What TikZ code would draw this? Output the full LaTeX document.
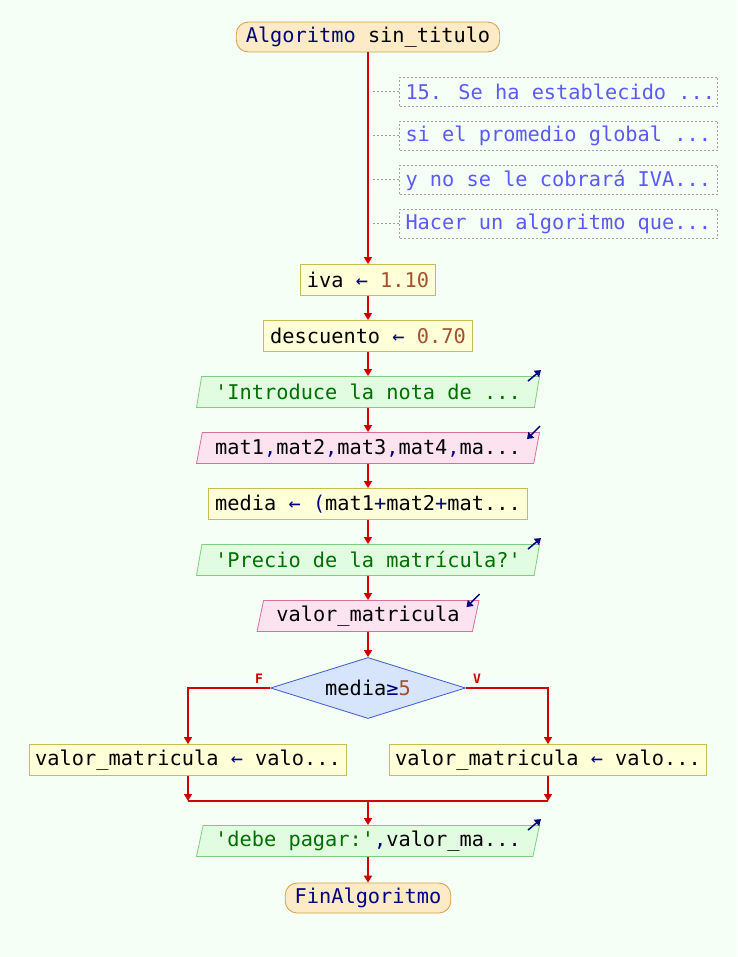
\documentclass[tikz,border=0pt]{standalone}
\usepackage{fontspec}
\newfontfamily\codefont{DejaVu Sans Mono}
\usetikzlibrary{shapes.geometric,arrows.meta,calc}

\definecolor{bgc}{HTML}{F5FFF5}
\definecolor{flowred}{HTML}{D00000}
\definecolor{termfill}{HTML}{FDEBC8}
\definecolor{termdraw}{HTML}{D4A04A}
\definecolor{procfill}{HTML}{FFFFD8}
\definecolor{procdraw}{HTML}{C8BE50}
\definecolor{outfill}{HTML}{E2FCE2}
\definecolor{outdraw}{HTML}{7CD07C}
\definecolor{infill}{HTML}{FDE2F0}
\definecolor{indraw}{HTML}{D8709A}
\definecolor{decfill}{HTML}{D6E4FC}
\definecolor{decdraw}{HTML}{3C5CD0}
\definecolor{kwc}{HTML}{000080}
\definecolor{numc}{HTML}{A0522D}
\definecolor{strc}{HTML}{007000}
\definecolor{cmtc}{HTML}{5A5AF5}
\definecolor{cmtline}{HTML}{A0A0A0}

\newcommand{\kwd}[1]{\textcolor{kwc}{#1}}
\newcommand{\numc}[1]{\textcolor{numc}{#1}}
\newcommand{\strc}[1]{\textcolor{strc}{#1}}
\newcommand{\cmtline}[1]{\makebox[306pt][l]{#1}}

\begin{document}
\begin{tikzpicture}[x=1pt,y=-1pt,
  font={\codefont\fontsize{20.3}{24}\selectfont},
  flow/.style={draw=flowred,line width=1.6pt},
  arr/.style={flow,-{Triangle[length=7pt,width=8pt]}},
  term/.style={rectangle,rounded corners=12pt,draw=termdraw,fill=termfill,
    line width=0.8pt,minimum height=30pt,inner xsep=9.5pt,inner ysep=0pt},
  proc/.style={rectangle,draw=procdraw,fill=procfill,line width=0.8pt,
    minimum height=31pt,inner xsep=6.5pt,inner ysep=0pt},
  outbox/.style={trapezium,trapezium left angle=72,trapezium right angle=108,
    trapezium stretches body,draw=outdraw,fill=outfill,line width=0.8pt,
    minimum height=31pt,inner xsep=4pt,inner ysep=0pt},
  inbox/.style={outbox,draw=indraw,fill=infill},
  decbox/.style={diamond,aspect=3.2,draw=decdraw,fill=decfill,line width=0.8pt,
    minimum width=195pt,minimum height=61pt,inner sep=1pt},
  cmtbox/.style={rectangle,draw=cmtline,line width=1pt,
    dash pattern=on 2pt off 2pt,text=cmtc,
    minimum height=29pt,inner xsep=6pt,inner ysep=0pt,anchor=west},
  cmtlink/.style={draw=cmtline,line width=1pt,dash pattern=on 2pt off 2pt},
  icon/.style={draw=kwc,line width=1.5pt,-{Triangle[length=6pt,width=8pt]}},
  branch/.style={text=flowred,font={\codefont\bfseries\fontsize{13}{15}\selectfont}}
]
\useasboundingbox[fill=bgc] (0,0) rectangle (737,957);

% terminals
\node[term] (start) at (368,37) {\kwd{Algoritmo} sin\_titulo};
\node[term] (fin) at (368,898) {\kwd{FinAlgoritmo}};

% comment lines
\node[cmtbox] (cm1) at (399,92) {\cmtline{15. Se ha establecido ...}};
\node[cmtbox] (cm2) at (399,136) {\cmtline{si el promedio global ...}};
\node[cmtbox] (cm3) at (399,180) {\cmtline{y no se le cobrará IVA...}};
\node[cmtbox] (cm4) at (399,224) {\cmtline{Hacer un algoritmo que...}};
\coordinate (k1) at (373,92);
\coordinate (k2) at (373,136);
\coordinate (k3) at (373,180);
\coordinate (k4) at (373,224);

% statements
\node[proc] (iva) at (368,280) {iva \kwd{←} \numc{1.10}};
\node[proc] (desc) at (368,336) {descuento \kwd{←} \numc{0.70}};
\node[outbox,minimum width=343pt] (out1) at (368,392)
  {\strc{'Introduce la nota de ...}};
\node[inbox,minimum width=343pt] (in1) at (368,448)
  {mat1\kwd{,}mat2\kwd{,}mat3\kwd{,}mat4\kwd{,}ma...};
\node[proc] (media) at (368,504)
  {media \kwd{←} \kwd{(}mat1\kwd{+}mat2\kwd{+}mat...};
\node[outbox,minimum width=343pt] (out2) at (368,560)
  {\strc{'Precio de la matrícula?'}};
\node[inbox,minimum width=222pt] (in2) at (368,616) {valor\_matricula};
\node[decbox] (dec) at (368,688) {media\kwd{≥}\numc{5}};
\node[proc,inner xsep=6pt] (bl) at (188,760) {valor\_matricula \kwd{←} valo...};
\node[proc,inner xsep=6pt] (br) at (548,760) {valor\_matricula \kwd{←} valo...};
\node[outbox,minimum width=343pt] (out3) at (368,841)
  {\strc{'debe pagar:'}\kwd{,}valor\_ma...};

\node[branch] (lf) at (259,679) {F};
\node[branch] (lv) at (477,679) {V};

% connectors
\draw[arr] (start) -- (iva);
\foreach \i in {1,...,4} \draw[cmtlink] (k\i) -- (cm\i.west);
\draw[arr] (iva) -- (desc);
\draw[arr] (desc) -- (out1);
\draw[arr] (out1) -- (in1);
\draw[arr] (in1) -- (media);
\draw[arr] (media) -- (out2);
\draw[arr] (out2) -- (in2);
\draw[arr] (in2) -- (dec);
\draw[arr] (dec.west) -| (bl.north);
\draw[arr] (dec.east) -| (br.north);
\coordinate (join) at (368,801);
\draw[arr] (bl.south) -- (bl.south |- join);
\draw[arr] (br.south) -- (br.south |- join);
\draw[flow] (bl.south |- join) -- (br.south |- join);
\draw[arr] (join) -- (out3);
\draw[arr] (out3) -- (fin);

% input/output markers
\draw[icon] ([shift={(-12,5)}]out1.top right corner) -- ([shift={(1,-6)}]out1.top right corner);
\draw[icon] ([shift={(-12,5)}]out2.top right corner) -- ([shift={(1,-6)}]out2.top right corner);
\draw[icon] ([shift={(-12,5)}]out3.top right corner) -- ([shift={(1,-6)}]out3.top right corner);
\draw[icon] ([shift={(0,-6)}]in1.top right corner) -- ([shift={(-13,7)}]in1.top right corner);
\draw[icon] ([shift={(0,-6)}]in2.top right corner) -- ([shift={(-13,7)}]in2.top right corner);
\end{tikzpicture}
\end{document}
